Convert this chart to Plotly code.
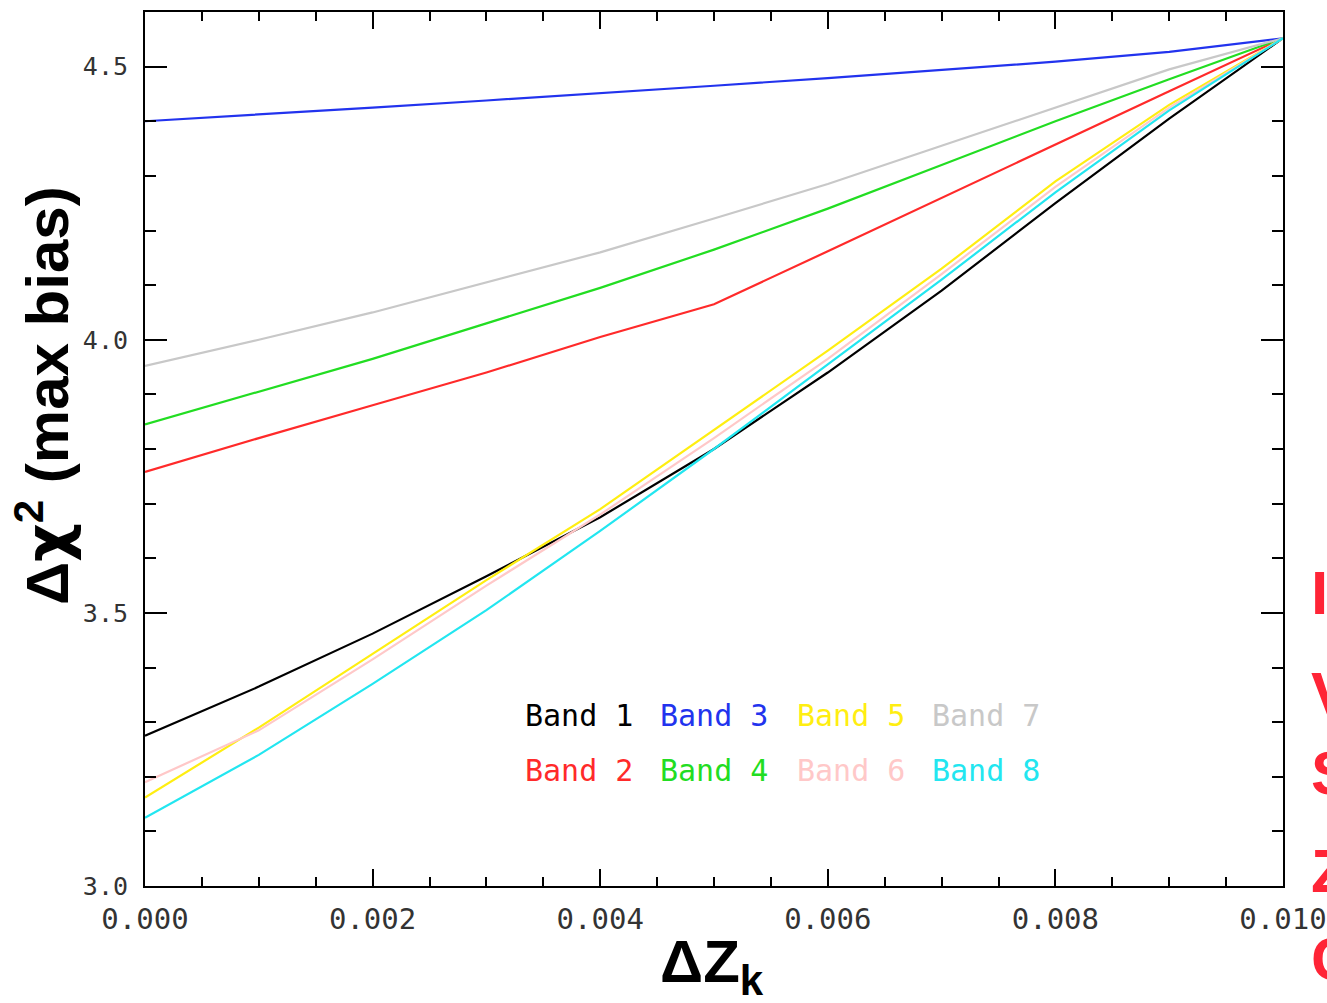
import plotly.graph_objects as go

# ---- data ----
dz = [0.000, 0.001, 0.002, 0.003, 0.004, 0.005, 0.006, 0.007, 0.008, 0.009, 0.010]
band1 = [3.275, 3.365, 3.462, 3.567, 3.675, 3.80, 3.94, 4.09, 4.25, 4.405, 4.552]
band2 = [3.758, 3.82, 3.88, 3.94, 4.005, 4.065, 4.162, 4.26, 4.357, 4.455, 4.552]
band3 = [4.40, 4.412, 4.425, 4.438, 4.451, 4.465, 4.479, 4.494, 4.509, 4.527, 4.552]
band4 = [3.845, 3.905, 3.965, 4.03, 4.095, 4.165, 4.24, 4.32, 4.40, 4.477, 4.552]
band5 = [3.162, 3.29, 3.425, 3.56, 3.69, 3.835, 3.98, 4.13, 4.29, 4.43, 4.552]
band6 = [3.19, 3.285, 3.415, 3.55, 3.68, 3.82, 3.965, 4.12, 4.28, 4.425, 4.552]
band7 = [3.952, 4.0, 4.05, 4.105, 4.16, 4.222, 4.285, 4.355, 4.425, 4.495, 4.552]
band8 = [3.125, 3.24, 3.37, 3.505, 3.65, 3.80, 3.955, 4.11, 4.27, 4.42, 4.552]

band_names = ["Band 1", "Band 2", "Band 3", "Band 4", "Band 5", "Band 6", "Band 7", "Band 8"]
band_values = [band1, band2, band3, band4, band5, band6, band7, band8]
band_colors = ["#000000", "#ff2a2a", "#2233ee", "#22dd22", "#ffee11", "#ffc8c8", "#c8c8c8", "#22e6f0"]

x_ticks = [0.000, 0.002, 0.004, 0.006, 0.008, 0.010]
x_ticklabels = ["0.000", "0.002", "0.004", "0.006", "0.008", "0.010"]
y_ticks = [3.0, 3.5, 4.0, 4.5]
y_ticklabels = ["3.0", "3.5", "4.0", "4.5"]
side_letters = ["I", "V", "S", "Z", "C"]

W, H = 1327, 1003
L, R, T, B = 145, 44, 12, 117
pw, ph = W - L - R, H - T - B

fig = go.Figure()
for name, vals, col in zip(band_names, band_values, band_colors):
    fig.add_trace(go.Scatter(x=dz, y=vals, mode="lines", name=name,
                             line=dict(color=col, width=2.2), showlegend=False))

def px_to_paper_x(px):
    return (px - L) / pw

def py_to_paper_y(py):
    return 1 - (py - T) / ph

annotations = []
# legend as coloured text in two rows
col_px = [523, 658, 795, 930]
row_py = [715, 770]
for i, (name, col) in enumerate(zip(band_names, band_colors)):
    c, r = i // 2, i % 2
    annotations.append(dict(
        x=px_to_paper_x(col_px[c]), y=py_to_paper_y(row_py[r]), xref="paper", yref="paper",
        text=name, showarrow=False, xanchor="left", yanchor="middle",
        font=dict(family="DejaVu Sans Mono", size=30, color=col)))

# axis titles
annotations.append(dict(
    x=px_to_paper_x(44), y=py_to_paper_y(396), xref="paper", yref="paper",
    text="<b>Δ<span style=\"font-family:'DejaVu Sans'\">χ</span><sup>2</sup> (max bias)</b>",
    showarrow=False, textangle=-90,
    xanchor="center", yanchor="middle",
    font=dict(family="Liberation Sans, Arial", size=60, color="black")))
annotations.append(dict(
    x=px_to_paper_x(712), y=py_to_paper_y(966), xref="paper", yref="paper",
    text="<b>ΔZ<sub>k</sub></b>", showarrow=False,
    xanchor="center", yanchor="middle",
    font=dict(family="Liberation Sans, Arial", size=60, color="black")))

# red letters at the right edge, clipped by the page border as in the reference
letter_py = [592, 693, 772, 870, 958]
for ch, py in zip(side_letters, letter_py):
    annotations.append(dict(
        x=px_to_paper_x(1309), y=py_to_paper_y(py), xref="paper", yref="paper",
        text="<b>" + ch + "</b>", showarrow=False, xanchor="left", yanchor="middle",
        font=dict(family="Liberation Sans, Arial", size=62, color="#ff2436")))

fig.update_layout(
    width=W, height=H,
    margin=dict(l=L, r=R, t=T, b=B, pad=0, autoexpand=False),
    paper_bgcolor="white", plot_bgcolor="white",
    showlegend=False,
    annotations=annotations,
    xaxis=dict(range=[0, 0.010], tickvals=x_ticks, ticktext=x_ticklabels,
               automargin=False,
               showgrid=False, zeroline=False,
               showline=True, linecolor="black", linewidth=2, mirror="allticks",
               ticks="inside", ticklen=17, tickwidth=2, tickcolor="black",
               ticklabelstandoff=6,
               minor=dict(dtick=0.0005, tick0=0, ticks="inside", ticklen=9,
                          tickwidth=1.5, tickcolor="black", showgrid=False),
               tickfont=dict(family="DejaVu Sans Mono", size=29, color="#333333")),
    yaxis=dict(range=[3.0, 4.6], tickvals=y_ticks, ticktext=y_ticklabels,
               automargin=False,
               showgrid=False, zeroline=False,
               showline=True, linecolor="black", linewidth=2, mirror="allticks",
               ticks="inside", ticklen=22, tickwidth=2, tickcolor="black",
               ticklabelstandoff=10,
               minor=dict(dtick=0.1, tick0=3.0, ticks="inside", ticklen=11,
                          tickwidth=1.5, tickcolor="black", showgrid=False),
               tickfont=dict(family="DejaVu Sans Mono", size=25, color="#333333")),
)

fig.write_html("out.html")
